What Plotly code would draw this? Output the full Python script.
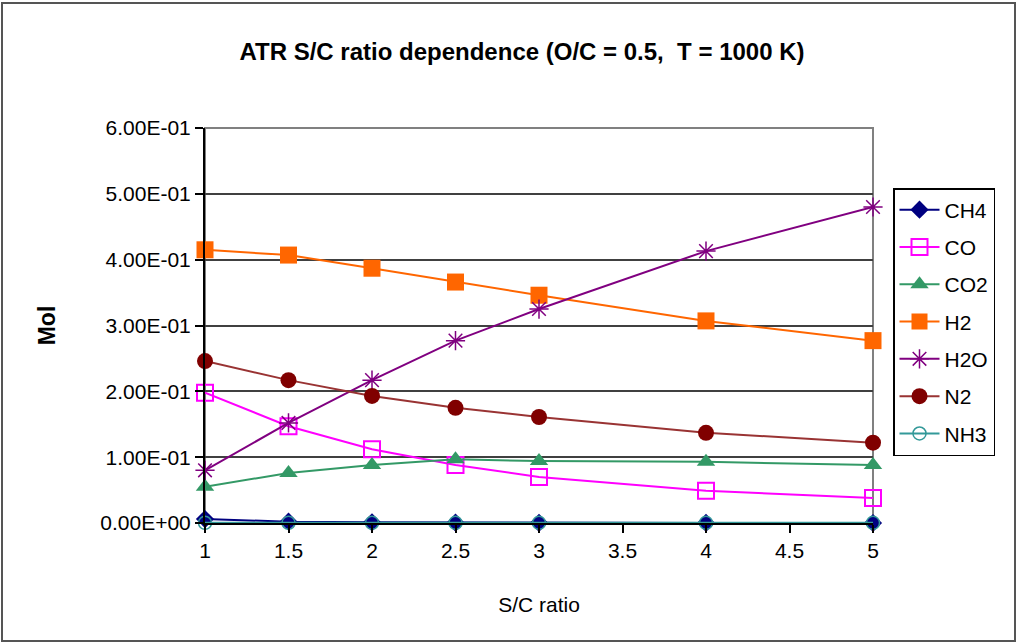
import plotly.graph_objects as go

sc_ratio = [1, 1.5, 2, 2.5, 3, 4, 5]
ch4 = [0.006, 0.002, 0.001, 0.0005, 0.0003, 0.0001, 0.0]
co = [0.198, 0.147, 0.112, 0.088, 0.070, 0.049, 0.038]
co2 = [0.055, 0.076, 0.088, 0.097, 0.094, 0.093, 0.088]
h2 = [0.415, 0.407, 0.387, 0.366, 0.346, 0.307, 0.277]
h2o = [0.080, 0.152, 0.217, 0.277, 0.325, 0.413, 0.480]
n2 = [0.246, 0.217, 0.193, 0.175, 0.161, 0.137, 0.122]
nh3 = [0.0002, 0.0002, 0.0002, 0.0002, 0.0002, 0.0002, 0.0002]

x_tickvals = [1, 1.5, 2, 2.5, 3, 3.5, 4, 4.5, 5]
x_ticktext = ["1", "1.5", "2", "2.5", "3", "3.5", "4", "4.5", "5"]
y_tickvals = [0, 0.1, 0.2, 0.3, 0.4, 0.5, 0.6]
y_ticktext = ["0.00E+00", "1.00E-01", "2.00E-01", "3.00E-01", "4.00E-01", "5.00E-01", "6.00E-01"]

FONT = "Arial, Liberation Sans, sans-serif"

series = [
    ("CH4", ch4, "#000080", "#000080", dict(symbol="diamond", size=14)),
    ("CO", co, "#FF00FF", "#FF00FF", dict(symbol="square-open", size=16, line=dict(width=2))),
    ("CO2", co2, "#339966", "#339966", dict(symbol="triangle-up", size=16)),
    ("H2", h2, "#FF6600", "#FF6600", dict(symbol="square", size=17)),
    ("H2O", h2o, "#800080", "#800080", dict(symbol="asterisk-open", size=16, line=dict(width=1.5, color="#800080"))),
    ("N2", n2, "#800000", "#993333", dict(symbol="circle", size=16)),
    ("NH3", nh3, "#339999", "#339999", dict(symbol="circle-open", size=13, line=dict(width=1.5))),
]

fig = go.Figure()
for name, vals, mcol, lcol, mk in series:
    marker = dict(color=mcol, **mk)
    fig.add_trace(go.Scatter(
        x=sc_ratio, y=vals, name=name, mode="lines+markers",
        line=dict(color=lcol, width=2), marker=marker,
        legendgroup=name, cliponaxis=False,
    ))

L, R, T, B = 205, 144, 128, 120
W, H = 1017, 643
pw, ph = W - L - R, H - T - B

def px_x(px):
    return (px - L) / pw

def px_y(py):
    return (H - B - py) / ph

fig.update_layout(
    width=W, height=H,
    margin=dict(l=L, r=R, t=T, b=B),
    paper_bgcolor="white", plot_bgcolor="white",
    font=dict(family=FONT, size=21, color="black"),
    title=dict(text="<b>ATR S/C ratio dependence (O/C = 0.5,  T = 1000 K)</b>",
               font=dict(size=24, family=FONT, color="black"),
               x=px_x(522), xref="paper", xanchor="center",
               y=1 - 52 / H, yref="container", yanchor="middle"),
    showlegend=True,
    legend=dict(x=px_x(893), y=px_y(188), xanchor="left", yanchor="top",
                bordercolor="black", borderwidth=1.5, bgcolor="white",
                font=dict(size=21, family=FONT), tracegroupgap=7,
                itemwidth=40),
    xaxis=dict(range=[1, 5], tickvals=x_tickvals, ticktext=x_ticktext,
               showgrid=False, zeroline=False, showline=True, linecolor="black", linewidth=2,
               ticks="outside", ticklen=8, tickwidth=1.5, tickcolor="black",
               tickfont=dict(size=21),
               title=dict(text="S/C ratio", font=dict(size=21), standoff=36)),
    yaxis=dict(range=[0, 0.6], tickvals=y_tickvals, ticktext=y_ticktext,
               showgrid=True, gridcolor="#404040", gridwidth=2, zeroline=False,
               showline=True, linecolor="black", linewidth=2,
               ticks="outside", ticklen=8, tickwidth=1.5, tickcolor="black",
               tickfont=dict(size=21),
               title=dict(text="<b>Mol</b>", font=dict(size=23), standoff=38)),
    shapes=[
        dict(type="rect", xref="paper", yref="paper", x0=0, x1=1, y0=0, y1=1,
             line=dict(color="#808080", width=2), layer="below"),
        dict(type="rect", xref="paper", yref="paper",
             x0=px_x(2), x1=px_x(1015), y0=px_y(641), y1=px_y(3),
             line=dict(color="#555555", width=2), layer="below"),
    ],
)

fig.write_html("out.html")
